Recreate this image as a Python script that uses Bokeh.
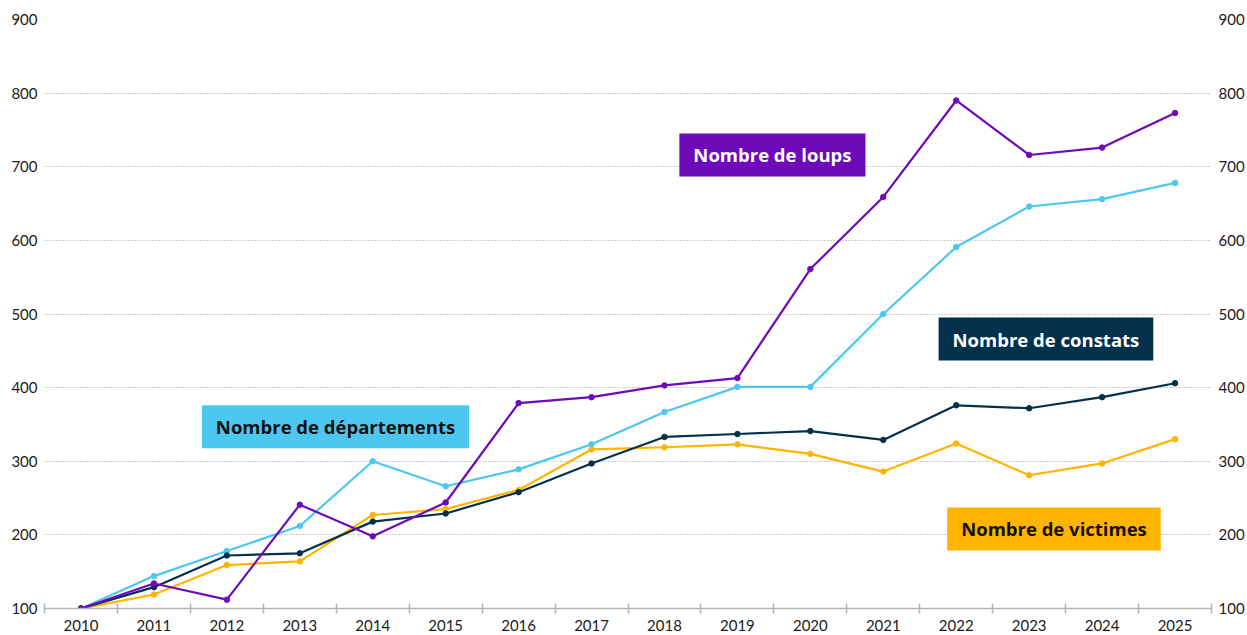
from bokeh.plotting import figure
from bokeh.models import FixedTicker, LinearAxis, Label, Range1d
from bokeh.embed import file_html
from bokeh.resources import INLINE

years = list(range(2010, 2026))
loups = [100, 134, 112, 241, 198, 244, 379, 387, 403, 413, 561, 659, 790, 716, 726, 773]
departements = [100, 144, 178, 212, 300, 266, 289, 323, 367, 401, 401, 500, 591, 646, 656, 678]
constats = [100, 129, 172, 175, 218, 229, 258, 297, 333, 337, 341, 329, 376, 372, 387, 406]
victimes = [100, 119, 159, 164, 227, 235, 261, 316, 319, 323, 310, 286, 324, 281, 297, 330]
y_ticks = [100, 200, 300, 400, 500, 600, 700, 800, 900]

C_LOUPS = "#6E0AB9"
C_DEP = "#4CC8F0"
C_CONST = "#03304A"
C_VICT = "#FFB400"
FONT = "Lato"
LFONT = "Open Sans"

p = figure(width=1247, height=635, output_backend="svg", toolbar_location=None,
           x_range=Range1d(2009.5, 2025.5), y_range=Range1d(100, 900),
           min_border_top=19, min_border_left=44, min_border_right=36, min_border_bottom=27)
p.outline_line_color = None
p.background_fill_color = "white"

# x axis
xa = p.xaxis[0]
xa.ticker = FixedTicker(ticks=years, minor_ticks=[y - 0.5 for y in years] + [2025.5])
xa.major_tick_in = 0
xa.major_tick_out = 0
xa.minor_tick_in = 5
xa.minor_tick_out = 5
xa.minor_tick_line_color = "#b3b3b3"
xa.minor_tick_line_width = 1.5
xa.axis_line_color = "#b3b3b3"
xa.axis_line_width = 1.5
xa.major_label_text_font = FONT
xa.major_label_text_font_size = "15px"
xa.major_label_text_color = "#1a1a1a"
xa.major_label_standoff = 6

# left y axis
ya = p.yaxis[0]
ya.ticker = FixedTicker(ticks=y_ticks)
ya.axis_line_color = None
ya.major_tick_line_color = None
ya.minor_tick_line_color = None
ya.major_label_text_font = FONT
ya.major_label_text_font_size = "15px"
ya.major_label_text_color = "#1a1a1a"
ya.major_label_standoff = 1

# right y axis
ra = LinearAxis(ticker=FixedTicker(ticks=y_ticks))
ra.axis_line_color = None
ra.major_tick_line_color = None
ra.minor_tick_line_color = None
ra.major_label_text_font = FONT
ra.major_label_text_font_size = "15px"
ra.major_label_text_color = "#1a1a1a"
ra.major_label_standoff = 1
p.add_layout(ra, "right")

p.xgrid.grid_line_color = None
p.ygrid.ticker = FixedTicker(ticks=y_ticks[1:])
p.ygrid.grid_line_color = "#9a9a9a"
p.ygrid.grid_line_dash = "1 2"
p.ygrid.grid_line_width = 1

series = [
    (departements, C_DEP),
    (victimes, C_VICT),
    (constats, C_CONST),
    (loups, C_LOUPS),
]
for vals, col in series:
    p.line(years, vals, line_color=col, line_width=2.2)
    p.scatter(years, vals, size=5.5, fill_color=col, line_color=col)

labels = [
    ("Nombre de loups", 2019.48, 716, C_LOUPS, "white"),
    ("Nombre de constats", 2023.23, 466, C_CONST, "white"),
    ("Nombre de départements", 2013.49, 347, C_DEP, "#111111"),
    ("Nombre de victimes", 2023.34, 208, C_VICT, "#111111"),
]
for txt, x, y, bg, fg in labels:
    p.add_layout(Label(x=x, y=y, text=txt, text_align="center", text_baseline="middle",
                       text_font=LFONT, text_font_style="bold", text_font_size="18.5px",
                       text_color=fg, background_fill_color=bg,
                       padding=dict(left=14, right=14, top=9, bottom=9)))

open("out.html", "w").write(file_html(p, INLINE))
